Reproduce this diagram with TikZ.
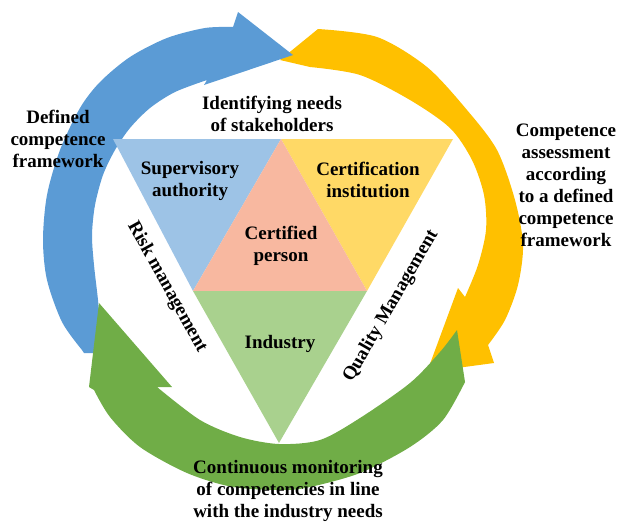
\documentclass[tikz,border=0pt]{standalone}
\usepackage{fontspec}
\setmainfont{Liberation Serif}[BoldFont={Liberation Serif Bold}]

\definecolor{arrowblue}{HTML}{5B9BD5}
\definecolor{arrowyellow}{HTML}{FFC000}
\definecolor{arrowgreen}{HTML}{70AD47}
\definecolor{fieldblue}{HTML}{9DC3E6}
\definecolor{fieldyellow}{HTML}{FFD966}
\definecolor{fieldsalmon}{HTML}{F8B8A0}
\definecolor{fieldgreen}{HTML}{A9D18E}

\begin{document}
\begin{tikzpicture}[x=1pt,y=-1pt,
    caption/.style={font=\rmfamily\bfseries\fontsize{19}{22}\selectfont,
          align=center, inner sep=0pt, text=black},
    field/.style={draw=none}]
\useasboundingbox (0,0) rectangle (620,522);

\fill[arrowyellow] (280,60) -- (318,29)
    -- plot[smooth] coordinates {(318,29) (377,37) (427,67) (467,110) (497,150)
          (515,200) (523,245) (518,285) (505,320) (488,345)}
    -- (494,363) -- (427,372) -- (458,288)
    -- plot[smooth] coordinates {(465,297) (478,265) (486,230) (484,195) (472,160)
          (450,128) (410,100) (360,75) (310,67)}
    -- cycle;

\fill[arrowblue] (84,353)
    -- plot[smooth] coordinates {(82,350) (62,322) (47,280) (43,240) (47,195)
          (60,150) (80,108) (100,82) (130,57) (167,38) (205,28) (233,27)}
    -- (238,12) -- (293,55) -- (204,85)
    -- plot[smooth] coordinates {(207,80) (175,92) (150,108) (130,128) (115,150)
          (103,175) (95,205) (92,235) (94,265) (98,300) (101,335)}
    -- (97,353) -- cycle;

\fill[arrowgreen] (457,330) -- (465,382)
    -- plot[smooth] coordinates {(465,382) (443,420) (410,447) (360,473) (310,487)
          (283,490) (233,487) (187,473) (140,447) (110,417) (94,390)}
    -- (89,387) -- (99,303) -- (172,387)
    -- plot[smooth] coordinates {(157,387) (200,420) (240,437) (279,444) (320,440)
          (360,418) (410,383) (440,352) (457,330)}
    -- cycle;

\coordinate (tl) at (113,139);
\coordinate (tm) at (281,139);
\coordinate (tr) at (453,139);
\coordinate (ml) at (193,291);
\coordinate (mr) at (367,291);
\coordinate (bt) at (279,443);

\fill[field, fieldblue] (tl) -- (tm) -- (ml) -- cycle;
\fill[field, fieldyellow] (tm) -- (tr) -- (mr) -- cycle;
\fill[field, fieldsalmon] (tm) -- (mr) -- (ml) -- cycle;
\fill[field, fieldgreen] (ml) -- (mr) -- (bt) -- cycle;

\node[caption] (needs) at (272,114) {Identifying needs\\of stakeholders};
\node[caption] (defined) at (58,139) {Defined\\competence\\framework};
\node[caption] (assess) at (566,185)
          {Competence\\assessment\\according\\to a defined\\competence\\framework};
\node[caption] (monitor) at (288,491)
          {Continuous monitoring\\of competencies in line\\with the industry needs};

\node[caption] (super) at (190,181) {Supervisory\\authority};
\node[caption] (certinst) at (368,180) {Certification\\institution};
\node[caption] (person) at (281,246) {Certified\\person};
\node[caption] (industry) at (280,344) {Industry};

\node[caption, rotate=-61] (risk) at (167,287) {Risk management};
\node[caption, rotate=60] (quality) at (391,306) {Quality Management};
\end{tikzpicture}
\end{document}
